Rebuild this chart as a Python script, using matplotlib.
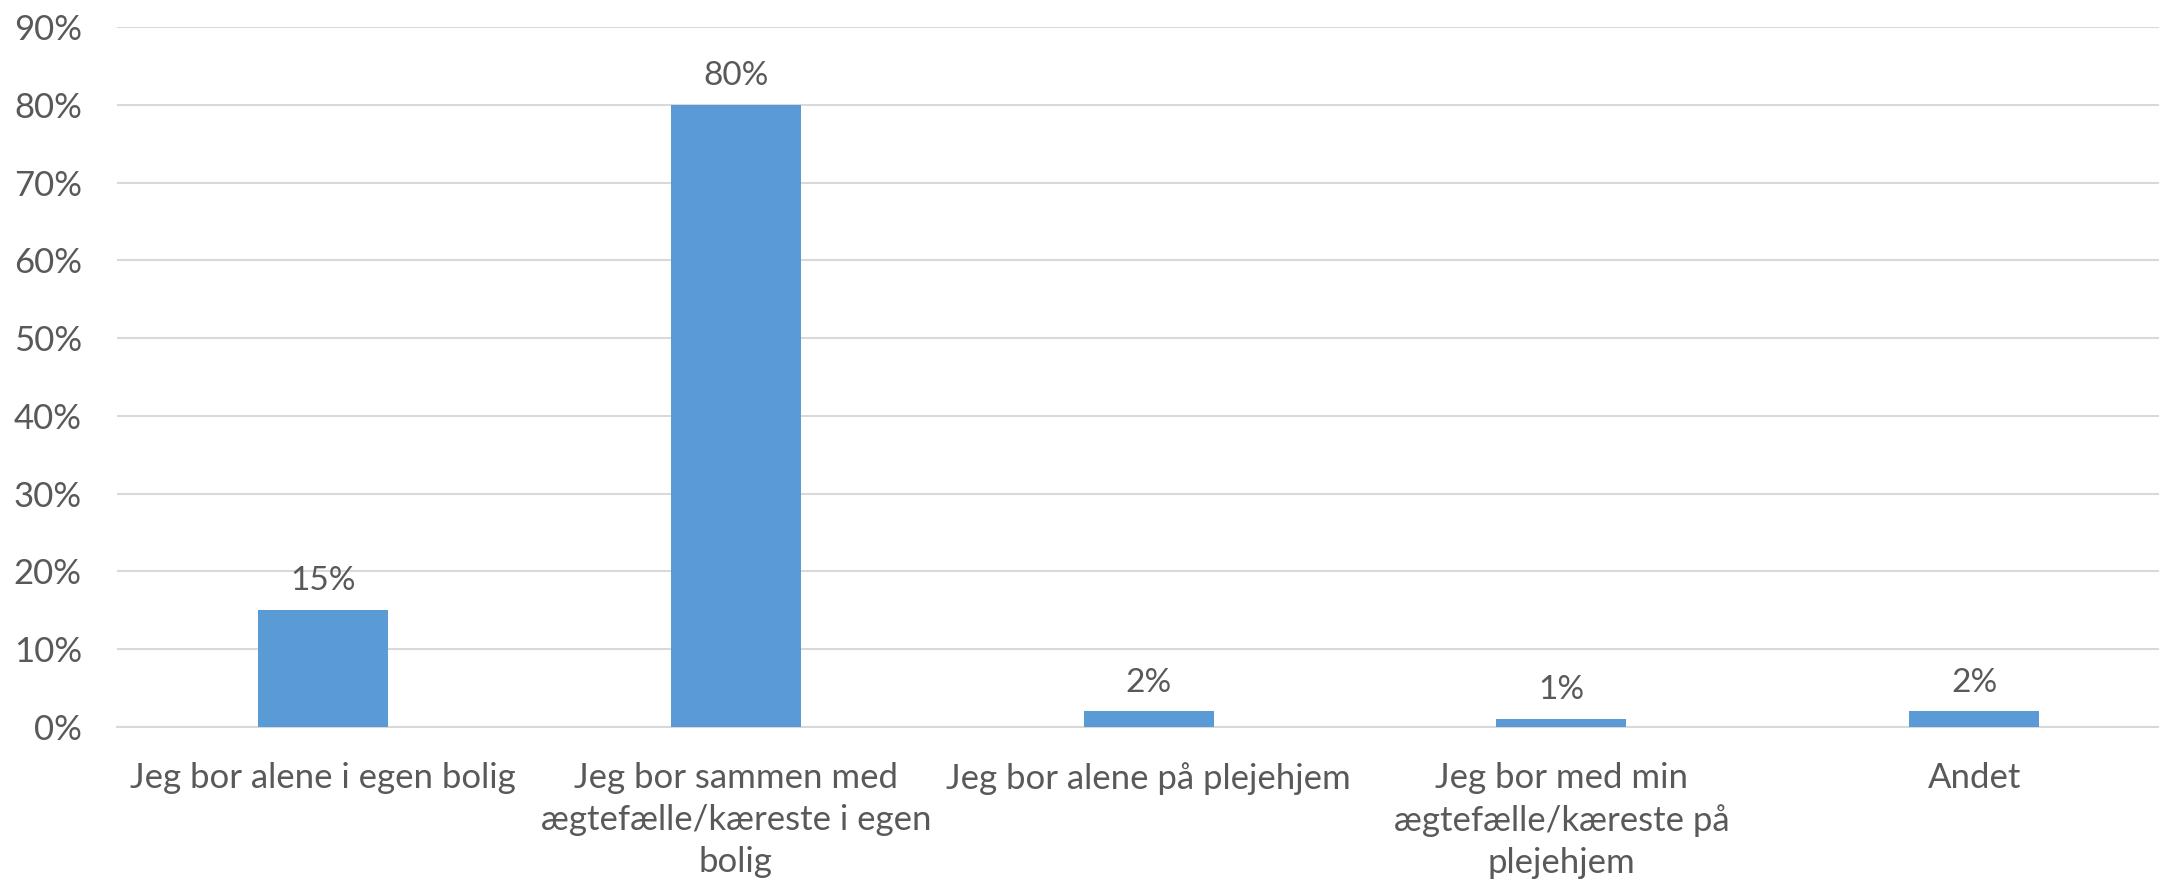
import matplotlib.pyplot as plt

plt.rcParams.update({
    "font.family": ["Lato", "DejaVu Sans"],
})

categories = [
    "Jeg bor alene i egen bolig",
    "Jeg bor sammen med\nægtefælle/kæreste i egen\nbolig",
    "Jeg bor alene på plejehjem",
    "Jeg bor med min\nægtefælle/kæreste på\nplejehjem",
    "Andet",
]
values = [15, 80, 2, 1, 2]
yticks = [0, 10, 20, 30, 40, 50, 60, 70, 80, 90]

text_color = "#595959"
bar_color = "#5B9BD5"
grid_color = "#D9D9D9"

fig = plt.figure(figsize=(21.59, 8.85), dpi=100)
ax = fig.add_axes([0.054, 0.1785, 0.956, 0.791])

x = list(range(len(categories)))
bars = ax.bar(x, values, width=0.315, color=bar_color, zorder=3)

for b, v in zip(bars, values):
    ax.annotate("{}%".format(v), (b.get_x() + b.get_width() / 2, v),
                xytext=(0, 10), textcoords="offset points",
                ha="center", va="bottom", fontsize=24, color=text_color)

ax.set_xlim(-0.5, len(categories) - 0.5)
ax.set_ylim(0, 90)
ax.set_yticks(yticks)
ax.set_yticklabels(["{}%".format(t) for t in yticks])
ax.set_xticks(x)
ax.set_xticklabels(categories, linespacing=1.38)

ax.grid(axis="y", color=grid_color, linewidth=1.5, zorder=0)
for s in ["top", "right", "left"]:
    ax.spines[s].set_visible(False)
ax.spines["bottom"].set_color(grid_color)
ax.spines["bottom"].set_linewidth(1.5)

ax.tick_params(axis="both", length=0, labelsize=25, colors=text_color)
ax.tick_params(axis="x", pad=25)
ax.tick_params(axis="y", pad=25)

fig.savefig("out.png", dpi=100)
